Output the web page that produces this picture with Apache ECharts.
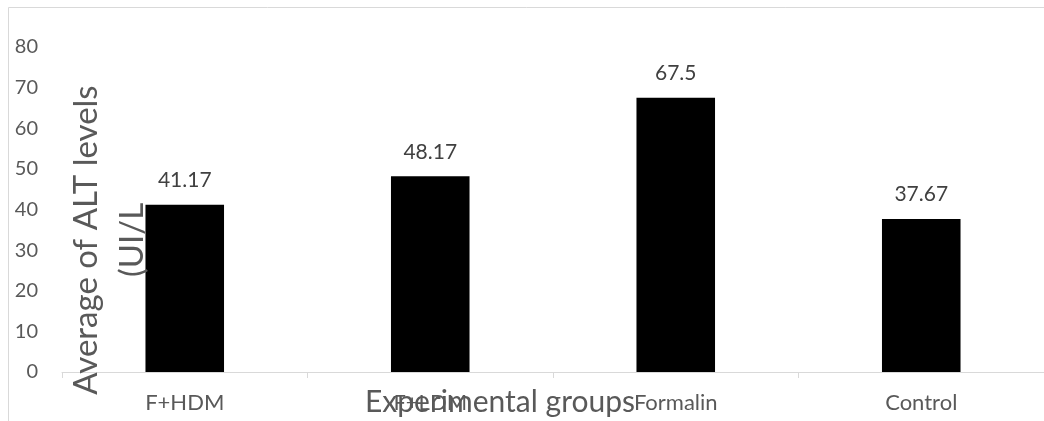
<!DOCTYPE html>
<html>
<head>
<meta charset="utf-8">
<script src="https://cdn.jsdelivr.net/npm/echarts@6/dist/echarts.min.js"></script>
<style>
html,body{margin:0;padding:0;background:#fff;}
#main{width:1044px;height:421px;}
</style>
</head>
<body>
<div id="main"></div>
<script>
const categories = ['F+HDM', 'F+LDM', 'Formalin', 'Control'];
const altValues = [41.17, 48.17, 67.5, 37.67];
const yTicks = [0, 10, 20, 30, 40, 50, 60, 70, 80];
const yAxisTitle = 'Average of ALT levels\n(UI/L';
const xAxisTitle = 'Experimental groups';

const FONT = 'Lato, "Open Sans", sans-serif';
const chart = echarts.init(document.getElementById('main'));
chart.setOption({
  animation: false,
  backgroundColor: '#ffffff',
  grid: { left: 62, right: -5, top: 47, bottom: 49, containLabel: false },
  xAxis: {
    type: 'category',
    data: categories,
    boundaryGap: true,
    axisLine: { show: true, lineStyle: { color: '#d9d9d9', width: 1 } },
    axisTick: { show: true, length: 6, lineStyle: { color: '#d9d9d9' } },
    axisLabel: { color: '#595959', fontSize: 22, fontFamily: FONT, margin: 20 },
    splitLine: { show: false }
  },
  yAxis: {
    type: 'value',
    min: yTicks[0],
    max: yTicks[yTicks.length - 1],
    interval: 10,
    axisLine: { show: false },
    axisTick: { show: false },
    splitLine: { show: false },
    axisLabel: { color: '#595959', fontSize: 20, fontFamily: FONT, margin: 24 }
  },
  series: [{
    type: 'bar',
    data: altValues,
    barWidth: '32%',
    itemStyle: { color: '#000000' },
    label: {
      show: true,
      position: 'top',
      distance: 14,
      color: '#404040',
      fontSize: 21,
      fontFamily: FONT
    }
  }],
  graphic: [
    {
      type: 'rect',
      shape: { x: 8.5, y: 7.5, width: 1100, height: 500 },
      style: { fill: 'none', stroke: '#d9d9d9', lineWidth: 1 },
      silent: true,
      z: -10
    },
    {
      type: 'text',
      x: 109, y: 240,
      rotation: Math.PI / 2,
      style: {
        text: yAxisTitle,
        font: '33px ' + FONT,
        fill: '#595959',
        textAlign: 'center',
        textVerticalAlign: 'middle',
        lineHeight: 46
      },
      z: 100
    },
    {
      type: 'text',
      x: 500, y: 402,
      style: {
        text: xAxisTitle,
        font: '30px ' + FONT,
        fill: '#595959',
        textAlign: 'center',
        textVerticalAlign: 'middle'
      },
      z: 100
    }
  ]
});
</script>
</body>
</html>
